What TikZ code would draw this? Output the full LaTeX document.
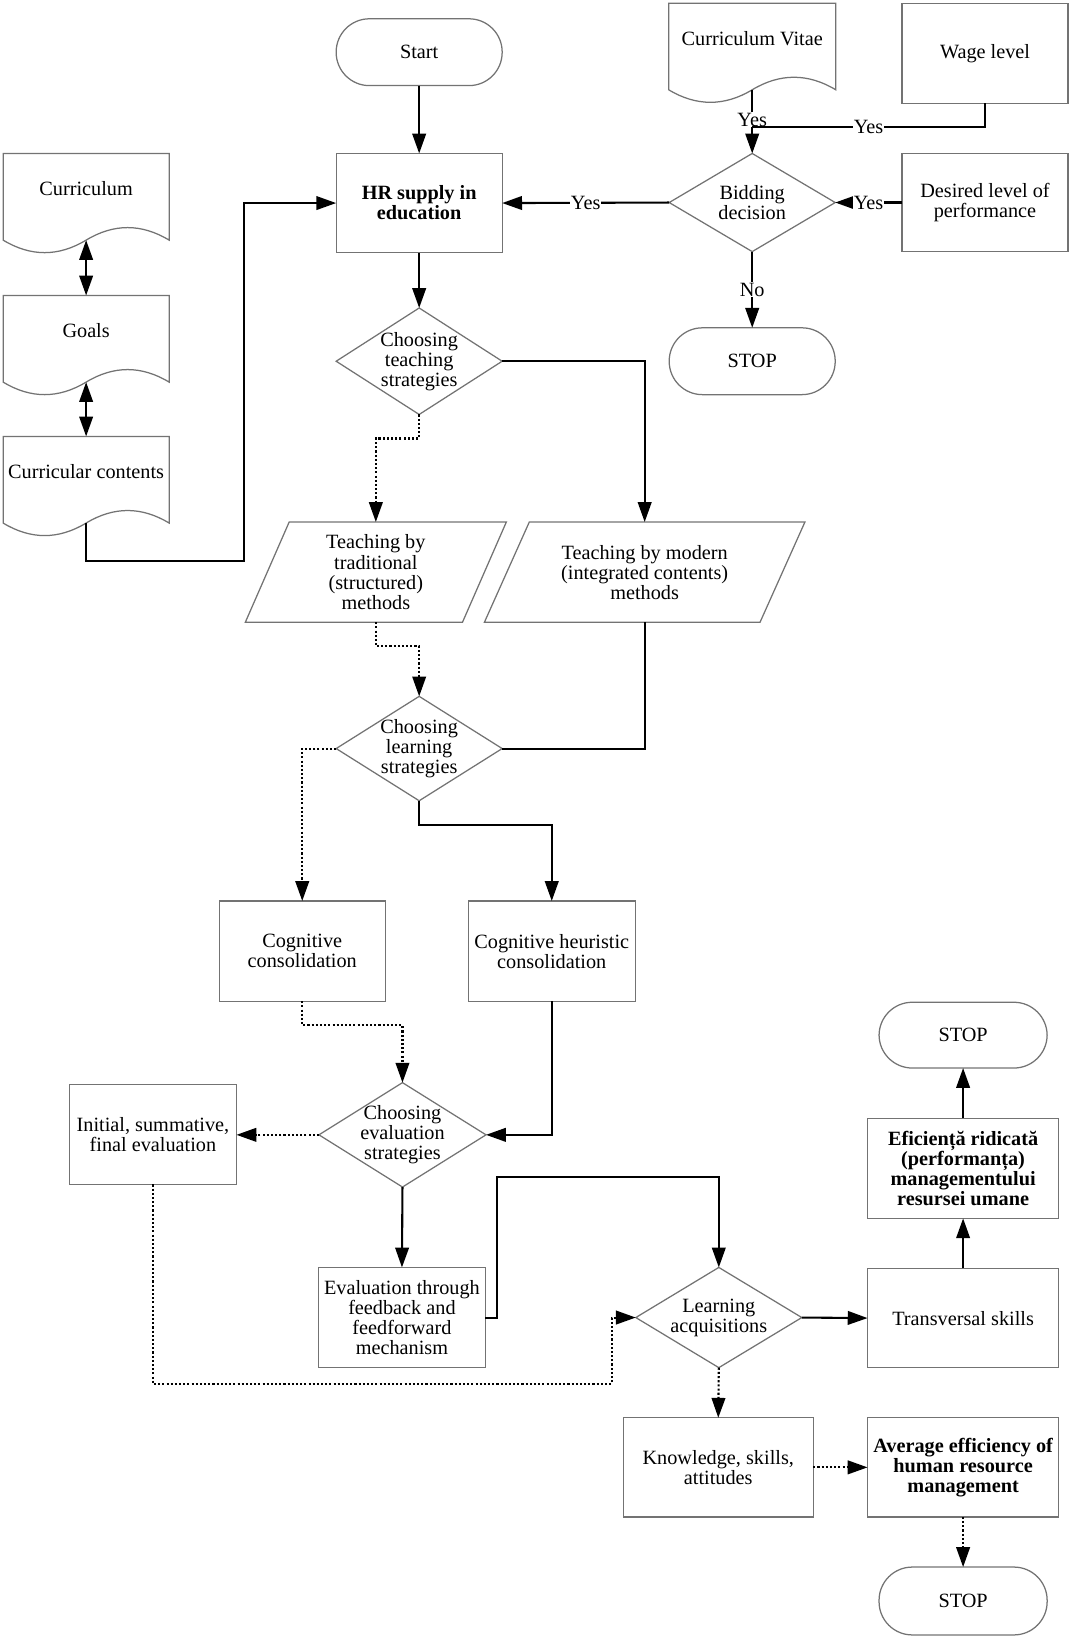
\documentclass[tikz,border=0pt]{standalone}
\usepackage{fontspec}
\setmainfont{Liberation Serif}
\usetikzlibrary{arrows.meta,shapes.geometric}
\definecolor{bordc}{RGB}{115,115,115}
\newcommand\myfs{\fontsize{9.7pt}{9.6pt}\selectfont}
\newcommand\docpath[1]{\draw[shp] (#1.north west) -- (#1.north east) -- (#1.south east) .. controls +(-26.5,-16) and +(26.5,-16) .. (#1.south) .. controls +(-26.5,16) and +(26.5,16) .. (#1.south west) -- cycle;}
\newcommand\parapath[2]{\draw[shp] ([xshift=#2]#1.north west) -- (#1.north east) -- ([xshift=-#2]#1.south east) -- (#1.south west) -- cycle;}
\tikzset{
  txt/.style={font=\myfs, align=center, inner sep=0pt, outer sep=0pt},
  bftxt/.style={font=\myfs\bfseries},
  shp/.style={draw=bordc, line width=0.6pt},
  sz/.style 2 args={minimum width=#1*0.5pt, minimum height=#2*0.5pt},
  rbox/.style={txt, shp, rectangle},
  term/.style={txt, shp, rectangle, rounded corners=15.9pt},
  dia/.style={shp, diamond, inner sep=0pt, outer sep=0pt},
  hid/.style={txt, rectangle},
  con/.style={line width=1pt, black},
  arr/.style={con, -{Triangle[length=9.5pt,width=6.5pt]}},
  arrdot/.style={arr, densely dotted},
  dbl/.style={con, {Triangle[length=9.5pt,width=6.5pt]}-{Triangle[length=9.5pt,width=6.5pt]}},
  lab/.style={txt, fill=white, inner sep=0.5pt},
}
\begin{document}
\begin{tikzpicture}[x=0.5pt,y=-0.5pt]
\useasboundingbox (0,0) rectangle (1026,1568);

% ---- top part
\node[term, sz={159}{64}] (start) at (401.5,50) {Start};
\node[rbox, bftxt, sz={159}{95}] (hr) at (401.5,194.5) {HR supply in\\education};

\node[hid, sz={160}{83}, label={[txt, yshift=3.75pt]center:Curriculum Vitae}] (cv) at (720.5,44.5) {};
\docpath{cv}
\node[rbox, sz={159}{96}] (wage) at (943.5,51) {Wage level};
\node[dia, sz={159}{94}, label={[txt]center:Bidding\\decision}] (bid) at (720.5,194) {};
\node[rbox, sz={159}{94}] (desired) at (943.5,194) {Desired level of\\performance};
\node[term, sz={159}{64}] (stopA) at (720.5,346) {STOP};

% ---- left documents
\node[hid, sz={159}{83}, label={[txt, yshift=3.75pt]center:Curriculum}] (curr) at (82.5,188.5) {};
\docpath{curr}
\node[hid, sz={159}{83}, label={[txt, yshift=3.75pt]center:Goals}] (goals) at (82.5,324.5) {};
\docpath{goals}
\node[hid, sz={159}{83}, label={[txt, yshift=3.75pt]center:Curricular contents}] (cc) at (82.5,459.5) {};
\docpath{cc}

% ---- middle
\node[dia, sz={159}{102}, label={[txt]center:Choosing\\teaching\\strategies}] (teach) at (401.5,346) {};
\node[hid, sz={250}{96}] (trad) at (360,548) {Teaching by\\traditional\\(structured)\\methods};
\parapath{trad}{21pt}
\node[hid, sz={307}{96}] (modern) at (617.5,548) {Teaching by modern\\(integrated contents)\\methods};
\parapath{modern}{21.5pt}
\node[dia, sz={159}{100}, label={[txt]center:Choosing\\learning\\strategies}] (learn) at (401.5,717) {};
\node[rbox, sz={159}{96}] (cogcons) at (289.5,911) {Cognitive\\consolidation};
\node[rbox, sz={160}{96}] (heur) at (528.5,911) {Cognitive heuristic\\consolidation};
\node[dia, sz={160}{100}, label={[txt]center:Choosing\\evaluation\\strategies}] (evalD) at (385.5,1087) {};
\node[rbox, sz={160}{96}] (initial) at (146.5,1086.5) {Initial, summative,\\final evaluation};
\node[rbox, sz={160}{96}] (feedback) at (385,1262) {Evaluation through\\feedback and\\feedforward\\mechanism};
\node[dia, sz={159}{96}, label={[txt]center:Learning\\acquisitions}] (acq) at (688.5,1262) {};

% ---- right bottom
\node[term, sz={161}{63}] (stopB) at (922.5,991.5) {STOP};
\node[rbox, bftxt, sz={183}{96}] (eff) at (922.5,1119) {Eficiență ridicată\\(performanța)\\managementului\\resursei umane};
\node[rbox, sz={183}{95}] (trans) at (922.5,1262.5) {Transversal skills};
\node[rbox, sz={182}{95}] (know) at (688,1405.5) {Knowledge, skills,\\attitudes};
\node[rbox, bftxt, sz={183}{95}] (avg) at (922.5,1405.5) {Average efficiency of\\human resource\\management};
\node[term, sz={161}{65}] (stopC) at (922.5,1533.5) {STOP};

% ---- bend points
\coordinate (jn) at (720.5,121.6);
\coordinate (c1) at (234,537);
\coordinate (c3) at (476,1127);
\coordinate (c4) at (586,1325.5);

% ---- connectors
\draw[arr] (start.south) -- (hr.north);
\draw[arr] (bid.west) -- node[lab]{Yes} (hr.east);
\draw[arr] (cv.south) -- node[lab, pos=0.47]{Yes} (bid.north);
\draw[con] (wage.south) |- node[lab, pos=0.75]{Yes} (jn);
\draw[arr] (desired.west) -- node[lab]{Yes} (bid.east);
\draw[arr] (bid.south) -- node[lab]{No} (stopA.north);

\draw[dbl] (curr.south) -- (goals.north);
\draw[dbl] (goals.south) -- (cc.north);
\draw[arr] (cc.south) |- (c1) |- (hr.west);

\draw[arr] (hr.south) -- (teach.north);
\draw[arr] (teach.east) -| (modern.north);
\draw[arrdot] (teach.south) -- ++(0,23) -| (trad.north);
\draw[arrdot] (trad.south) -- ++(0,23) -| (learn.north);
\draw[con] (modern.south) |- (learn.east);
\draw[arrdot] (learn.west) -| (cogcons.north);
\draw[arr] (learn.south) -- ++(0,23.5) -| (heur.north);
\draw[arrdot] (cogcons.south) -- ++(0,23) -| (evalD.north);
\draw[arr] (heur.south) |- (evalD.east);
\draw[arrdot] (evalD.west) -- (evalD.west -| initial.east);
\draw[arr] (evalD.south) -- (feedback.north);
\draw[arr] (feedback.east) -| (c3) -| (acq.north);
\draw[arrdot] (initial.south) |- (c4) |- (acq.west);
\draw[arr] (acq.east) -- (trans.west);
\draw[arrdot] (acq.south) -- (know.north);
\draw[arrdot] (know.east) -- (avg.west);
\draw[arrdot] (avg.south) -- (stopC.north);
\draw[arr] (trans.north) -- (eff.south);
\draw[arr] (eff.north) -- (stopB.south);
\end{tikzpicture}
\end{document}
